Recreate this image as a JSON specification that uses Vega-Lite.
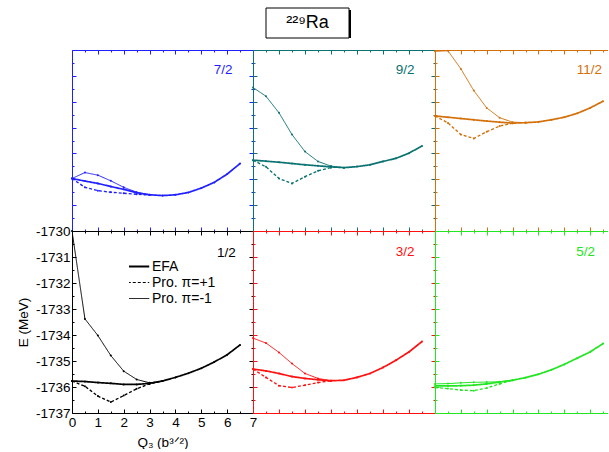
{
  "$schema": "https://vega.github.io/schema/vega-lite/v6.json",
  "padding": {"left": 16, "top": 7, "right": 0, "bottom": 0},
  "background": "white",
  "config": {
    "view": {"stroke": null},
    "font": "Liberation Sans",
    "axis": {"grid": false, "domainWidth": 1, "tickWidth": 1, "labelOverlap": false, "labelFlush": false, "labelFont": "Liberation Sans", "titleFont": "Liberation Sans"}
  },
  "datasets": {
    "d": [
      {"p": "1/2", "s": "EFA", "q": 0, "e": -1735.77},
      {"p": "1/2", "s": "EFA", "q": 0.5, "e": -1735.79},
      {"p": "1/2", "s": "EFA", "q": 1, "e": -1735.83},
      {"p": "1/2", "s": "EFA", "q": 1.5, "e": -1735.86},
      {"p": "1/2", "s": "EFA", "q": 2, "e": -1735.9},
      {"p": "1/2", "s": "EFA", "q": 2.5, "e": -1735.9},
      {"p": "1/2", "s": "EFA", "q": 3, "e": -1735.86},
      {"p": "1/2", "s": "EFA", "q": 3.5, "e": -1735.77},
      {"p": "1/2", "s": "EFA", "q": 4, "e": -1735.63},
      {"p": "1/2", "s": "EFA", "q": 4.5, "e": -1735.47},
      {"p": "1/2", "s": "EFA", "q": 5, "e": -1735.28},
      {"p": "1/2", "s": "EFA", "q": 5.5, "e": -1735.04},
      {"p": "1/2", "s": "EFA", "q": 6, "e": -1734.76},
      {"p": "1/2", "s": "EFA", "q": 6.5, "e": -1734.38},
      {"p": "1/2", "s": "Pro. π=+1", "q": 0, "e": -1735.77},
      {"p": "1/2", "s": "Pro. π=+1", "q": 0.5, "e": -1735.97},
      {"p": "1/2", "s": "Pro. π=+1", "q": 1, "e": -1736.35},
      {"p": "1/2", "s": "Pro. π=+1", "q": 1.5, "e": -1736.58},
      {"p": "1/2", "s": "Pro. π=+1", "q": 2, "e": -1736.33},
      {"p": "1/2", "s": "Pro. π=+1", "q": 2.5, "e": -1736.07},
      {"p": "1/2", "s": "Pro. π=+1", "q": 3, "e": -1735.88},
      {"p": "1/2", "s": "Pro. π=+1", "q": 3.5, "e": -1735.77},
      {"p": "1/2", "s": "Pro. π=-1", "q": 0, "e": -1730.0},
      {"p": "1/2", "s": "Pro. π=-1", "q": 0.5, "e": -1733.38},
      {"p": "1/2", "s": "Pro. π=-1", "q": 1, "e": -1734.02},
      {"p": "1/2", "s": "Pro. π=-1", "q": 1.5, "e": -1734.79},
      {"p": "1/2", "s": "Pro. π=-1", "q": 2, "e": -1735.39},
      {"p": "1/2", "s": "Pro. π=-1", "q": 2.5, "e": -1735.71},
      {"p": "1/2", "s": "Pro. π=-1", "q": 3, "e": -1735.84},
      {"p": "1/2", "s": "Pro. π=-1", "q": 3.5, "e": -1735.77},

      {"p": "7/2", "s": "EFA", "q": 0, "e": -1734.97},
      {"p": "7/2", "s": "EFA", "q": 0.5, "e": -1735.07},
      {"p": "7/2", "s": "EFA", "q": 1, "e": -1735.16},
      {"p": "7/2", "s": "EFA", "q": 1.5, "e": -1735.28},
      {"p": "7/2", "s": "EFA", "q": 2, "e": -1735.39},
      {"p": "7/2", "s": "EFA", "q": 2.5, "e": -1735.52},
      {"p": "7/2", "s": "EFA", "q": 3, "e": -1735.6},
      {"p": "7/2", "s": "EFA", "q": 3.5, "e": -1735.63},
      {"p": "7/2", "s": "EFA", "q": 4, "e": -1735.6},
      {"p": "7/2", "s": "EFA", "q": 4.5, "e": -1735.51},
      {"p": "7/2", "s": "EFA", "q": 5, "e": -1735.34},
      {"p": "7/2", "s": "EFA", "q": 5.5, "e": -1735.12},
      {"p": "7/2", "s": "EFA", "q": 6, "e": -1734.8},
      {"p": "7/2", "s": "EFA", "q": 6.5, "e": -1734.39},
      {"p": "7/2", "s": "Pro. π=+1", "q": 0, "e": -1734.97},
      {"p": "7/2", "s": "Pro. π=+1", "q": 0.5, "e": -1735.31},
      {"p": "7/2", "s": "Pro. π=+1", "q": 1, "e": -1735.44},
      {"p": "7/2", "s": "Pro. π=+1", "q": 1.5, "e": -1735.5},
      {"p": "7/2", "s": "Pro. π=+1", "q": 2, "e": -1735.54},
      {"p": "7/2", "s": "Pro. π=+1", "q": 2.5, "e": -1735.58},
      {"p": "7/2", "s": "Pro. π=+1", "q": 3, "e": -1735.61},
      {"p": "7/2", "s": "Pro. π=-1", "q": 0, "e": -1734.97},
      {"p": "7/2", "s": "Pro. π=-1", "q": 0.5, "e": -1734.74},
      {"p": "7/2", "s": "Pro. π=-1", "q": 1, "e": -1734.84},
      {"p": "7/2", "s": "Pro. π=-1", "q": 1.5, "e": -1735.06},
      {"p": "7/2", "s": "Pro. π=-1", "q": 2, "e": -1735.31},
      {"p": "7/2", "s": "Pro. π=-1", "q": 2.5, "e": -1735.5},
      {"p": "7/2", "s": "Pro. π=-1", "q": 3, "e": -1735.6},

      {"p": "9/2", "s": "EFA", "q": 0, "e": -1734.26},
      {"p": "9/2", "s": "EFA", "q": 0.5, "e": -1734.3},
      {"p": "9/2", "s": "EFA", "q": 1, "e": -1734.34},
      {"p": "9/2", "s": "EFA", "q": 1.5, "e": -1734.39},
      {"p": "9/2", "s": "EFA", "q": 2, "e": -1734.44},
      {"p": "9/2", "s": "EFA", "q": 2.5, "e": -1734.48},
      {"p": "9/2", "s": "EFA", "q": 3, "e": -1734.52},
      {"p": "9/2", "s": "EFA", "q": 3.5, "e": -1734.55},
      {"p": "9/2", "s": "EFA", "q": 4, "e": -1734.51},
      {"p": "9/2", "s": "EFA", "q": 4.5, "e": -1734.44},
      {"p": "9/2", "s": "EFA", "q": 5, "e": -1734.31},
      {"p": "9/2", "s": "EFA", "q": 5.5, "e": -1734.19},
      {"p": "9/2", "s": "EFA", "q": 6, "e": -1733.99},
      {"p": "9/2", "s": "EFA", "q": 6.5, "e": -1733.71},
      {"p": "9/2", "s": "Pro. π=+1", "q": 0, "e": -1734.26},
      {"p": "9/2", "s": "Pro. π=+1", "q": 0.5, "e": -1734.52},
      {"p": "9/2", "s": "Pro. π=+1", "q": 1, "e": -1734.97},
      {"p": "9/2", "s": "Pro. π=+1", "q": 1.5, "e": -1735.16},
      {"p": "9/2", "s": "Pro. π=+1", "q": 2, "e": -1734.9},
      {"p": "9/2", "s": "Pro. π=+1", "q": 2.5, "e": -1734.67},
      {"p": "9/2", "s": "Pro. π=+1", "q": 3, "e": -1734.55},
      {"p": "9/2", "s": "Pro. π=-1", "q": 0, "e": -1731.45},
      {"p": "9/2", "s": "Pro. π=-1", "q": 0.5, "e": -1731.79},
      {"p": "9/2", "s": "Pro. π=-1", "q": 1, "e": -1732.43},
      {"p": "9/2", "s": "Pro. π=-1", "q": 1.5, "e": -1733.27},
      {"p": "9/2", "s": "Pro. π=-1", "q": 2, "e": -1733.93},
      {"p": "9/2", "s": "Pro. π=-1", "q": 2.5, "e": -1734.31},
      {"p": "9/2", "s": "Pro. π=-1", "q": 3, "e": -1734.49},
      {"p": "9/2", "s": "Pro. π=-1", "q": 3.5, "e": -1734.55},

      {"p": "11/2", "s": "EFA", "q": 0, "e": -1732.55},
      {"p": "11/2", "s": "EFA", "q": 0.5, "e": -1732.6},
      {"p": "11/2", "s": "EFA", "q": 1, "e": -1732.65},
      {"p": "11/2", "s": "EFA", "q": 1.5, "e": -1732.7},
      {"p": "11/2", "s": "EFA", "q": 2, "e": -1732.75},
      {"p": "11/2", "s": "EFA", "q": 2.5, "e": -1732.79},
      {"p": "11/2", "s": "EFA", "q": 3, "e": -1732.83},
      {"p": "11/2", "s": "EFA", "q": 3.5, "e": -1732.81},
      {"p": "11/2", "s": "EFA", "q": 4, "e": -1732.78},
      {"p": "11/2", "s": "EFA", "q": 4.5, "e": -1732.7},
      {"p": "11/2", "s": "EFA", "q": 5, "e": -1732.6},
      {"p": "11/2", "s": "EFA", "q": 5.5, "e": -1732.45},
      {"p": "11/2", "s": "EFA", "q": 6, "e": -1732.24},
      {"p": "11/2", "s": "EFA", "q": 6.5, "e": -1731.98},
      {"p": "11/2", "s": "Pro. π=+1", "q": 0, "e": -1732.55},
      {"p": "11/2", "s": "Pro. π=+1", "q": 0.5, "e": -1732.82},
      {"p": "11/2", "s": "Pro. π=+1", "q": 1, "e": -1733.27},
      {"p": "11/2", "s": "Pro. π=+1", "q": 1.5, "e": -1733.42},
      {"p": "11/2", "s": "Pro. π=+1", "q": 2, "e": -1733.16},
      {"p": "11/2", "s": "Pro. π=+1", "q": 2.5, "e": -1732.94},
      {"p": "11/2", "s": "Pro. π=+1", "q": 3, "e": -1732.83},
      {"p": "11/2", "s": "Pro. π=-1", "q": 0, "e": -1730.05},
      {"p": "11/2", "s": "Pro. π=-1", "q": 0.5, "e": -1730.03},
      {"p": "11/2", "s": "Pro. π=-1", "q": 1, "e": -1730.73},
      {"p": "11/2", "s": "Pro. π=-1", "q": 1.5, "e": -1731.57},
      {"p": "11/2", "s": "Pro. π=-1", "q": 2, "e": -1732.24},
      {"p": "11/2", "s": "Pro. π=-1", "q": 2.5, "e": -1732.62},
      {"p": "11/2", "s": "Pro. π=-1", "q": 3, "e": -1732.79},
      {"p": "11/2", "s": "Pro. π=-1", "q": 3.5, "e": -1732.81},

      {"p": "3/2", "s": "EFA", "q": 0, "e": -1735.31},
      {"p": "3/2", "s": "EFA", "q": 0.5, "e": -1735.38},
      {"p": "3/2", "s": "EFA", "q": 1, "e": -1735.48},
      {"p": "3/2", "s": "EFA", "q": 1.5, "e": -1735.6},
      {"p": "3/2", "s": "EFA", "q": 2, "e": -1735.67},
      {"p": "3/2", "s": "EFA", "q": 2.5, "e": -1735.72},
      {"p": "3/2", "s": "EFA", "q": 3, "e": -1735.76},
      {"p": "3/2", "s": "EFA", "q": 3.5, "e": -1735.74},
      {"p": "3/2", "s": "EFA", "q": 4, "e": -1735.63},
      {"p": "3/2", "s": "EFA", "q": 4.5, "e": -1735.48},
      {"p": "3/2", "s": "EFA", "q": 5, "e": -1735.25},
      {"p": "3/2", "s": "EFA", "q": 5.5, "e": -1734.97},
      {"p": "3/2", "s": "EFA", "q": 6, "e": -1734.65},
      {"p": "3/2", "s": "EFA", "q": 6.5, "e": -1734.25},
      {"p": "3/2", "s": "Pro. π=+1", "q": 0, "e": -1735.31},
      {"p": "3/2", "s": "Pro. π=+1", "q": 0.5, "e": -1735.63},
      {"p": "3/2", "s": "Pro. π=+1", "q": 1, "e": -1735.95},
      {"p": "3/2", "s": "Pro. π=+1", "q": 1.5, "e": -1736.02},
      {"p": "3/2", "s": "Pro. π=+1", "q": 2, "e": -1735.93},
      {"p": "3/2", "s": "Pro. π=+1", "q": 2.5, "e": -1735.83},
      {"p": "3/2", "s": "Pro. π=+1", "q": 3, "e": -1735.76},
      {"p": "3/2", "s": "Pro. π=-1", "q": 0, "e": -1734.12},
      {"p": "3/2", "s": "Pro. π=-1", "q": 0.5, "e": -1734.31},
      {"p": "3/2", "s": "Pro. π=-1", "q": 1, "e": -1734.67},
      {"p": "3/2", "s": "Pro. π=-1", "q": 1.5, "e": -1735.1},
      {"p": "3/2", "s": "Pro. π=-1", "q": 2, "e": -1735.48},
      {"p": "3/2", "s": "Pro. π=-1", "q": 2.5, "e": -1735.67},
      {"p": "3/2", "s": "Pro. π=-1", "q": 3, "e": -1735.76},

      {"p": "5/2", "s": "EFA", "q": 0, "e": -1735.96},
      {"p": "5/2", "s": "EFA", "q": 0.5, "e": -1735.96},
      {"p": "5/2", "s": "EFA", "q": 1, "e": -1735.95},
      {"p": "5/2", "s": "EFA", "q": 1.5, "e": -1735.93},
      {"p": "5/2", "s": "EFA", "q": 2, "e": -1735.88},
      {"p": "5/2", "s": "EFA", "q": 2.5, "e": -1735.81},
      {"p": "5/2", "s": "EFA", "q": 3, "e": -1735.74},
      {"p": "5/2", "s": "EFA", "q": 3.5, "e": -1735.64},
      {"p": "5/2", "s": "EFA", "q": 4, "e": -1735.51},
      {"p": "5/2", "s": "EFA", "q": 4.5, "e": -1735.34},
      {"p": "5/2", "s": "EFA", "q": 5, "e": -1735.13},
      {"p": "5/2", "s": "EFA", "q": 5.5, "e": -1734.89},
      {"p": "5/2", "s": "EFA", "q": 6, "e": -1734.65},
      {"p": "5/2", "s": "EFA", "q": 6.5, "e": -1734.33},
      {"p": "5/2", "s": "Pro. π=+1", "q": 0, "e": -1736.02},
      {"p": "5/2", "s": "Pro. π=+1", "q": 0.5, "e": -1736.06},
      {"p": "5/2", "s": "Pro. π=+1", "q": 1, "e": -1736.12},
      {"p": "5/2", "s": "Pro. π=+1", "q": 1.5, "e": -1736.14},
      {"p": "5/2", "s": "Pro. π=+1", "q": 2, "e": -1736.04},
      {"p": "5/2", "s": "Pro. π=+1", "q": 2.5, "e": -1735.88},
      {"p": "5/2", "s": "Pro. π=+1", "q": 3, "e": -1735.74},
      {"p": "5/2", "s": "Pro. π=-1", "q": 0, "e": -1735.88},
      {"p": "5/2", "s": "Pro. π=-1", "q": 0.5, "e": -1735.87},
      {"p": "5/2", "s": "Pro. π=-1", "q": 1, "e": -1735.84},
      {"p": "5/2", "s": "Pro. π=-1", "q": 1.5, "e": -1735.82},
      {"p": "5/2", "s": "Pro. π=-1", "q": 2, "e": -1735.81},
      {"p": "5/2", "s": "Pro. π=-1", "q": 2.5, "e": -1735.8},
      {"p": "5/2", "s": "Pro. π=-1", "q": 3, "e": -1735.74}
    ]
  },
  "spacing": 10,
  "vconcat": [
    {
      "spacing": 0,
      "hconcat": [
        {"width": 193, "height": 30, "data": {"values": [{"t": ""}]}, "mark": {"type": "rect", "opacity": 0}, "encoding": {}},
        {
          "width": 83, "height": 30,
          "data": {"values": [{"t": "²²⁹Ra"}]},
          "layer": [
            {"mark": {"type": "rect", "color": "black", "xOffset": 2, "yOffset": 2, "x2Offset": 2, "y2Offset": 2}, "encoding": {}},
            {"mark": {"type": "rect", "fill": "white", "stroke": "black", "strokeWidth": 1}, "encoding": {}},
            {"mark": {"type": "text", "fontSize": 18, "font": "Liberation Sans", "color": "black"}, "encoding": {"text": {"field": "t"}}}
          ]
        }
      ]
    },
    {
      "columns": 3,
      "spacing": 0,
      "bounds": "flush",
      "align": "each",
      "resolve": {"scale": {"x": "independent", "y": "independent", "strokeDash": "independent"}},
      "concat": [
        {
          "width": 181, "height": 181,
          "data": {"name": "d"},
          "transform": [{"filter": "datum.p === '7/2'"}],
          "title": {"text": "7/2", "anchor": "end", "orient": "top", "baseline": "middle", "offset": -34, "dx": -21, "fontSize": 13.5, "fontWeight": "normal", "color": "#1f1fff", "font": "Liberation Sans"},
          "layer": [
            {
              "mark": {"type": "line", "color": "#1f1fff", "clip": true},
              "encoding": {
                "x": {"field": "q", "type": "quantitative", "scale": {"domain": [0, 7], "nice": false, "zero": false},
                  "axis": {"orient": "bottom", "values": [0,0.5,1,1.5,2,2.5,3,3.5,4,4.5,5,5.5,6,6.5,7], "labels": false, "title": null, "domainColor": "#1f1fff", "tickColor": "#1f1fff", "tickSize": {"condition": {"test": "datum.value % 1 === 0", "value": -4}, "value": -2}}},
                "y": {"field": "e", "type": "quantitative", "scale": {"domain": [-1737, -1730], "nice": false, "zero": false},
                  "axis": {"orient": "left", "values": [-1737,-1736.5,-1736,-1735.5,-1735,-1734.5,-1734,-1733.5,-1733,-1732.5,-1732,-1731.5,-1731,-1730.5,-1730], "labels": false, "title": null, "domainColor": "#1f1fff", "tickColor": "#1f1fff", "tickSize": {"condition": {"test": "datum.value % 1 === 0", "value": -4}, "value": -2}}},
                "strokeDash": {"field": "s", "type": "nominal", "scale": {"domain": ["EFA", "Pro. π=+1", "Pro. π=-1"], "range": [[1, 0], [3, 2], [1, 0]]}, "legend": null},
                "strokeWidth": {"field": "s", "type": "nominal", "scale": {"domain": ["EFA", "Pro. π=+1", "Pro. π=-1"], "range": [1.7, 1, 1]}, "legend": null}
              }
            },
            {
              "mark": {"type": "point", "filled": true, "size": 4, "color": "#1f1fff", "opacity": 1},
              "encoding": {
                "x": {"field": "q", "type": "quantitative", "axis": {"orient": "top", "values": [0,0.5,1,1.5,2,2.5,3,3.5,4,4.5,5,5.5,6,6.5,7], "labels": false, "title": null, "domainColor": "#1f1fff", "tickColor": "#1f1fff", "tickSize": {"condition": {"test": "datum.value % 1 === 0", "value": -4}, "value": -2}}},
                "y": {"field": "e", "type": "quantitative", "axis": {"orient": "right", "values": [-1737,-1736.5,-1736,-1735.5,-1735,-1734.5,-1734,-1733.5,-1733,-1732.5,-1732,-1731.5,-1731,-1730.5,-1730], "labels": false, "title": null, "domainColor": "#1f1fff", "tickColor": "#1f1fff", "tickSize": {"condition": {"test": "datum.value % 1 === 0", "value": -4}, "value": -2}}}
              }
            }
          ],
          "resolve": {"axis": {"x": "independent", "y": "independent"}}
        },
        {
          "width": 182, "height": 181,
          "data": {"name": "d"},
          "transform": [{"filter": "datum.p === '9/2'"}],
          "title": {"text": "9/2", "anchor": "end", "orient": "top", "baseline": "middle", "offset": -34, "dx": -21, "fontSize": 13.5, "fontWeight": "normal", "color": "#0b7272", "font": "Liberation Sans"},
          "layer": [
            {
              "mark": {"type": "line", "color": "#0b7272", "clip": true},
              "encoding": {
                "x": {"field": "q", "type": "quantitative", "scale": {"domain": [0, 7], "nice": false, "zero": false},
                  "axis": {"orient": "bottom", "values": [0,0.5,1,1.5,2,2.5,3,3.5,4,4.5,5,5.5,6,6.5,7], "labels": false, "title": null, "domainColor": "#0b7272", "tickColor": "#0b7272", "tickSize": {"condition": {"test": "datum.value % 1 === 0", "value": -4}, "value": -2}}},
                "y": {"field": "e", "type": "quantitative", "scale": {"domain": [-1737, -1730], "nice": false, "zero": false},
                  "axis": {"orient": "left", "values": [-1737,-1736.5,-1736,-1735.5,-1735,-1734.5,-1734,-1733.5,-1733,-1732.5,-1732,-1731.5,-1731,-1730.5,-1730], "labels": false, "title": null, "domainColor": "#0b7272", "tickColor": "#0b7272", "tickSize": {"condition": {"test": "datum.value % 1 === 0", "value": -4}, "value": -2}}},
                "strokeDash": {"field": "s", "type": "nominal", "scale": {"domain": ["EFA", "Pro. π=+1", "Pro. π=-1"], "range": [[1, 0], [3, 2], [1, 0]]}, "legend": null},
                "strokeWidth": {"field": "s", "type": "nominal", "scale": {"domain": ["EFA", "Pro. π=+1", "Pro. π=-1"], "range": [1.7, 1, 1]}, "legend": null}
              }
            },
            {
              "mark": {"type": "point", "filled": true, "size": 4, "color": "#0b7272", "opacity": 1},
              "encoding": {
                "x": {"field": "q", "type": "quantitative", "axis": {"orient": "top", "values": [0,0.5,1,1.5,2,2.5,3,3.5,4,4.5,5,5.5,6,6.5,7], "labels": false, "title": null, "domainColor": "#0b7272", "tickColor": "#0b7272", "tickSize": {"condition": {"test": "datum.value % 1 === 0", "value": -4}, "value": -2}}},
                "y": {"field": "e", "type": "quantitative", "axis": {"orient": "right", "values": [-1737,-1736.5,-1736,-1735.5,-1735,-1734.5,-1734,-1733.5,-1733,-1732.5,-1732,-1731.5,-1731,-1730.5,-1730], "labels": false, "title": null, "domainColor": "#0b7272", "tickColor": "#0b7272", "tickSize": {"condition": {"test": "datum.value % 1 === 0", "value": -4}, "value": -2}}}
              }
            }
          ],
          "resolve": {"axis": {"x": "independent", "y": "independent"}}
        },
        {
          "width": 173, "height": 181,
          "data": {"name": "d"},
          "transform": [{"filter": "datum.p === '11/2'"}],
          "title": {"text": "11/2", "anchor": "end", "orient": "top", "baseline": "middle", "offset": -34, "dx": -6, "fontSize": 13.5, "fontWeight": "normal", "color": "#d4700a", "font": "Liberation Sans"},
          "layer": [
            {
              "mark": {"type": "line", "color": "#d4700a", "clip": true},
              "encoding": {
                "x": {"field": "q", "type": "quantitative", "scale": {"domain": [0, 6.69], "nice": false, "zero": false},
                  "axis": {"orient": "bottom", "values": [0,0.5,1,1.5,2,2.5,3,3.5,4,4.5,5,5.5,6,6.5], "labels": false, "title": null, "domainColor": "#d4700a", "tickColor": "#d4700a", "tickSize": {"condition": {"test": "datum.value % 1 === 0", "value": -4}, "value": -2}}},
                "y": {"field": "e", "type": "quantitative", "scale": {"domain": [-1737, -1730], "nice": false, "zero": false},
                  "axis": {"orient": "left", "values": [-1737,-1736.5,-1736,-1735.5,-1735,-1734.5,-1734,-1733.5,-1733,-1732.5,-1732,-1731.5,-1731,-1730.5,-1730], "labels": false, "title": null, "domainColor": "#d4700a", "tickColor": "#d4700a", "tickSize": {"condition": {"test": "datum.value % 1 === 0", "value": -4}, "value": -2}}},
                "strokeDash": {"field": "s", "type": "nominal", "scale": {"domain": ["EFA", "Pro. π=+1", "Pro. π=-1"], "range": [[1, 0], [3, 2], [1, 0]]}, "legend": null},
                "strokeWidth": {"field": "s", "type": "nominal", "scale": {"domain": ["EFA", "Pro. π=+1", "Pro. π=-1"], "range": [1.7, 1, 1]}, "legend": null}
              }
            },
            {
              "mark": {"type": "point", "filled": true, "size": 4, "color": "#d4700a", "opacity": 1},
              "encoding": {
                "x": {"field": "q", "type": "quantitative", "axis": {"orient": "top", "values": [0,0.5,1,1.5,2,2.5,3,3.5,4,4.5,5,5.5,6,6.5], "labels": false, "title": null, "domainColor": "#d4700a", "tickColor": "#d4700a", "tickSize": {"condition": {"test": "datum.value % 1 === 0", "value": -4}, "value": -2}}},
                "y": {"field": "e", "type": "quantitative", "axis": null}
              }
            }
          ],
          "resolve": {"axis": {"x": "independent", "y": "independent"}}
        },
        {
          "width": 181, "height": 182,
          "data": {"name": "d"},
          "transform": [{"filter": "datum.p === '1/2'"}],
          "title": {"text": "1/2", "anchor": "end", "orient": "top", "baseline": "middle", "offset": -42, "dx": -21, "fontSize": 13.5, "fontWeight": "normal", "color": "black", "font": "Liberation Sans"},
          "layer": [
            {
              "mark": {"type": "line", "color": "black", "clip": true},
              "encoding": {
                "x": {"field": "q", "type": "quantitative", "scale": {"domain": [0, 7], "nice": false, "zero": false},
                  "axis": {"orient": "bottom", "values": [0,0.5,1,1.5,2,2.5,3,3.5,4,4.5,5,5.5,6,6.5,7], "labels": true, "labelExpr": "datum.value % 1 === 0 ? '' + datum.value : ''", "labelFontSize": 13.5, "labelColor": "black", "labelPadding": 6, "title": "Q₃ (b³ᐟ²)", "titleFontSize": 13.5, "titleFontWeight": "normal", "titleColor": "black", "titlePadding": 5, "domainColor": "black", "tickColor": "black", "tickSize": {"condition": {"test": "datum.value % 1 === 0", "value": -4}, "value": -2}}},
                "y": {"field": "e", "type": "quantitative", "scale": {"domain": [-1737, -1730], "nice": false, "zero": false},
                  "axis": {"orient": "left", "values": [-1737,-1736.5,-1736,-1735.5,-1735,-1734.5,-1734,-1733.5,-1733,-1732.5,-1732,-1731.5,-1731,-1730.5,-1730], "labels": true, "labelExpr": "datum.value % 1 === 0 ? '' + datum.value : ''", "labelFontSize": 13.5, "labelColor": "black", "labelPadding": 6, "title": "E (MeV)", "titleFontSize": 13.5, "titleFontWeight": "normal", "titleColor": "black", "titlePadding": 5, "domainColor": "black", "tickColor": "black", "tickSize": {"condition": {"test": "datum.value % 1 === 0", "value": -4}, "value": -2}}},
                "strokeDash": {"field": "s", "type": "nominal", "scale": {"domain": ["EFA", "Pro. π=+1", "Pro. π=-1"], "range": [[1, 0], [3, 2], [1, 0]]},
                  "legend": {"orient": "none", "legendX": 57, "legendY": 28, "title": null, "symbolType": "stroke", "symbolSize": 700, "symbolStrokeColor": "black", "clipHeight": 15, "rowPadding": 1, "labelFontSize": 14, "labelFont": "Liberation Sans", "labelColor": "black", "labelOffset": 9,
                    "encode": {"symbols": {"update": {"strokeWidth": {"signal": "datum.value === 'EFA' ? 2 : 1"}, "stroke": {"value": "black"}}}}}},
                "strokeWidth": {"field": "s", "type": "nominal", "scale": {"domain": ["EFA", "Pro. π=+1", "Pro. π=-1"], "range": [1.7, 1, 1]}, "legend": null}
              }
            },
            {
              "mark": {"type": "point", "filled": true, "size": 4, "color": "black", "opacity": 1},
              "encoding": {
                "x": {"field": "q", "type": "quantitative", "axis": {"orient": "top", "values": [0,0.5,1,1.5,2,2.5,3,3.5,4,4.5,5,5.5,6,6.5,7], "labels": false, "title": null, "domainColor": "black", "tickColor": "black", "tickSize": {"condition": {"test": "datum.value % 1 === 0", "value": -4}, "value": -2}}},
                "y": {"field": "e", "type": "quantitative", "axis": {"orient": "right", "values": [-1737,-1736.5,-1736,-1735.5,-1735,-1734.5,-1734,-1733.5,-1733,-1732.5,-1732,-1731.5,-1731,-1730.5,-1730], "labels": false, "title": null, "domainColor": "black", "tickColor": "black", "tickSize": {"condition": {"test": "datum.value % 1 === 0", "value": -4}, "value": -2}}}
              }
            }
          ],
          "resolve": {"axis": {"x": "independent", "y": "independent"}}
        },
        {
          "width": 182, "height": 182,
          "data": {"name": "d"},
          "transform": [{"filter": "datum.p === '3/2'"}],
          "title": {"text": "3/2", "anchor": "end", "orient": "top", "baseline": "middle", "offset": -35, "dx": -21, "fontSize": 13.5, "fontWeight": "normal", "color": "#ff1010", "font": "Liberation Sans"},
          "layer": [
            {
              "mark": {"type": "line", "color": "#ff1010", "clip": true},
              "encoding": {
                "x": {"field": "q", "type": "quantitative", "scale": {"domain": [0, 7], "nice": false, "zero": false},
                  "axis": {"orient": "bottom", "values": [0,0.5,1,1.5,2,2.5,3,3.5,4,4.5,5,5.5,6,6.5,7], "labels": false, "title": null, "domainColor": "#ff1010", "tickColor": "#ff1010", "tickSize": {"condition": {"test": "datum.value % 1 === 0", "value": -4}, "value": -2}}},
                "y": {"field": "e", "type": "quantitative", "scale": {"domain": [-1737, -1730], "nice": false, "zero": false},
                  "axis": {"orient": "left", "values": [-1737,-1736.5,-1736,-1735.5,-1735,-1734.5,-1734,-1733.5,-1733,-1732.5,-1732,-1731.5,-1731,-1730.5,-1730], "labels": false, "title": null, "domainColor": "#ff1010", "tickColor": "#ff1010", "tickSize": {"condition": {"test": "datum.value % 1 === 0", "value": -4}, "value": -2}}},
                "strokeDash": {"field": "s", "type": "nominal", "scale": {"domain": ["EFA", "Pro. π=+1", "Pro. π=-1"], "range": [[1, 0], [3, 2], [1, 0]]}, "legend": null},
                "strokeWidth": {"field": "s", "type": "nominal", "scale": {"domain": ["EFA", "Pro. π=+1", "Pro. π=-1"], "range": [1.7, 1, 1]}, "legend": null}
              }
            },
            {
              "mark": {"type": "point", "filled": true, "size": 4, "color": "#ff1010", "opacity": 1},
              "encoding": {
                "x": {"field": "q", "type": "quantitative", "axis": {"orient": "top", "values": [0,0.5,1,1.5,2,2.5,3,3.5,4,4.5,5,5.5,6,6.5,7], "labels": false, "title": null, "domainColor": "#ff1010", "tickColor": "#ff1010", "tickSize": {"condition": {"test": "datum.value % 1 === 0", "value": -4}, "value": -2}}},
                "y": {"field": "e", "type": "quantitative", "axis": {"orient": "right", "values": [-1737,-1736.5,-1736,-1735.5,-1735,-1734.5,-1734,-1733.5,-1733,-1732.5,-1732,-1731.5,-1731,-1730.5,-1730], "labels": false, "title": null, "domainColor": "#ff1010", "tickColor": "#ff1010", "tickSize": {"condition": {"test": "datum.value % 1 === 0", "value": -4}, "value": -2}}}
              }
            }
          ],
          "resolve": {"axis": {"x": "independent", "y": "independent"}}
        },
        {
          "width": 173, "height": 182,
          "data": {"name": "d"},
          "transform": [{"filter": "datum.p === '5/2'"}],
          "title": {"text": "5/2", "anchor": "end", "orient": "top", "baseline": "middle", "offset": -35, "dx": -13, "fontSize": 13.5, "fontWeight": "normal", "color": "#22e622", "font": "Liberation Sans"},
          "layer": [
            {
              "mark": {"type": "line", "color": "#22e622", "clip": true},
              "encoding": {
                "x": {"field": "q", "type": "quantitative", "scale": {"domain": [0, 6.69], "nice": false, "zero": false},
                  "axis": {"orient": "bottom", "values": [0,0.5,1,1.5,2,2.5,3,3.5,4,4.5,5,5.5,6,6.5], "labels": false, "title": null, "domainColor": "#22e622", "tickColor": "#22e622", "tickSize": {"condition": {"test": "datum.value % 1 === 0", "value": -4}, "value": -2}}},
                "y": {"field": "e", "type": "quantitative", "scale": {"domain": [-1737, -1730], "nice": false, "zero": false},
                  "axis": {"orient": "left", "values": [-1737,-1736.5,-1736,-1735.5,-1735,-1734.5,-1734,-1733.5,-1733,-1732.5,-1732,-1731.5,-1731,-1730.5,-1730], "labels": false, "title": null, "domainColor": "#22e622", "tickColor": "#22e622", "tickSize": {"condition": {"test": "datum.value % 1 === 0", "value": -4}, "value": -2}}},
                "strokeDash": {"field": "s", "type": "nominal", "scale": {"domain": ["EFA", "Pro. π=+1", "Pro. π=-1"], "range": [[1, 0], [3, 2], [1, 0]]}, "legend": null},
                "strokeWidth": {"field": "s", "type": "nominal", "scale": {"domain": ["EFA", "Pro. π=+1", "Pro. π=-1"], "range": [1.7, 1, 1]}, "legend": null}
              }
            },
            {
              "mark": {"type": "point", "filled": true, "size": 4, "color": "#22e622", "opacity": 1},
              "encoding": {
                "x": {"field": "q", "type": "quantitative", "axis": {"orient": "top", "values": [0,0.5,1,1.5,2,2.5,3,3.5,4,4.5,5,5.5,6,6.5], "labels": false, "title": null, "domainColor": "#22e622", "tickColor": "#22e622", "tickSize": {"condition": {"test": "datum.value % 1 === 0", "value": -4}, "value": -2}}},
                "y": {"field": "e", "type": "quantitative", "axis": null}
              }
            }
          ],
          "resolve": {"axis": {"x": "independent", "y": "independent"}}
        }
      ]
    }
  ]
}
